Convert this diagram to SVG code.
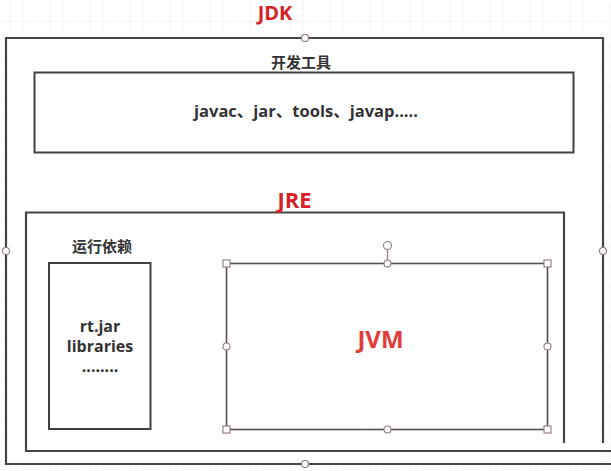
<svg xmlns="http://www.w3.org/2000/svg" width="611" height="471" viewBox="0 0 611 471">
  <defs>
    <pattern id="grid" patternUnits="userSpaceOnUse" x="10" y="7.5" width="13.333" height="13.333">
      <path d="M0 0 H13.333 M0 0 V13.333" fill="none" stroke="#ebebeb" stroke-width="1"/>
    </pattern>
  </defs>
  <style>
    .open { fill: none; stroke: #444444; stroke-width: 2.2; }
    .box { fill: #ffffff; stroke: #404040; stroke-width: 2; }
    .sel { fill: #ffffff; stroke: #5a4c4c; stroke-width: 1.6; }
    .h { fill: #ffffff; stroke: #8c7a7a; stroke-width: 1.1; }
    .red { font-family: 'Open Sans', 'Liberation Sans', sans-serif; font-weight: bold; fill: #d71f26; text-anchor: middle; }
    .txt { font-family: 'Open Sans', 'Noto Sans CJK SC', sans-serif; font-weight: bold; fill: #333333; text-anchor: middle; }
    .cjk { font-family: 'Noto Sans CJK SC', sans-serif; font-weight: bold; fill: #333333; text-anchor: middle; }
  </style>
  <rect x="0" y="0" width="611" height="471" fill="#ffffff"/>
  <rect x="0" y="0" width="611" height="471" fill="url(#grid)"/>

  <g id="jdk">
    <rect x="6" y="38" width="597" height="426" fill="#ffffff" stroke="none"/>
    <path class="open" d="M603 443 V38 H6 V464 H611"/>
    <text class="red" x="275" y="20" font-size="20">JDK</text>
    <circle class="h" cx="305" cy="38" r="3.5"/>
    <circle class="h" cx="6" cy="251" r="3.5"/>
    <circle class="h" cx="603" cy="251" r="3.5"/>
    <circle class="h" cx="305" cy="464" r="3.5"/>
  </g>

  <g id="devtools">
    <text class="cjk" x="301" y="68" font-size="15">开发工具</text>
    <rect class="box" x="34.5" y="72.5" width="539" height="80"/>
    <text class="txt" x="306" y="117" font-size="16.5">javac、jar、tools、javap.....</text>
  </g>

  <g id="jre">
    <path class="open" d="M564 443 V212.5 H26 V451 H611"/>
    <text class="red" x="294.5" y="208" font-size="22">JRE</text>
  </g>

  <g id="runtime-deps">
    <text class="cjk" x="102" y="252" font-size="15">运行依赖</text>
    <rect class="box" x="49" y="263" width="101.5" height="166"/>
    <text class="txt" x="100" y="332" font-size="16">rt.jar</text>
    <text class="txt" x="100" y="352" font-size="16">libraries</text>
    <text class="txt" x="100" y="372" font-size="16">........</text>
  </g>

  <g id="jvm">
    <rect class="sel" x="226.5" y="263.5" width="321" height="166"/>
    <text class="red" x="380.5" y="348" font-size="24" style="fill:#e33b3b">JVM</text>
    <line x1="387.5" y1="249.5" x2="387.5" y2="263.5" stroke="#8c7a7a" stroke-width="1.2"/>
    <circle class="h" cx="387.5" cy="245.5" r="4"/>
    <rect class="h" x="223" y="260" width="7" height="7"/>
    <rect class="h" x="544" y="260" width="7" height="7"/>
    <rect class="h" x="223" y="426" width="7" height="7"/>
    <rect class="h" x="544" y="426" width="7" height="7"/>
    <circle class="h" cx="387.5" cy="263.5" r="3.5"/>
    <circle class="h" cx="387.5" cy="429.5" r="3.5"/>
    <circle class="h" cx="226.5" cy="346.5" r="3.5"/>
    <circle class="h" cx="547.5" cy="346.5" r="3.5"/>
  </g>

  <g id="connectors"/>
</svg>
